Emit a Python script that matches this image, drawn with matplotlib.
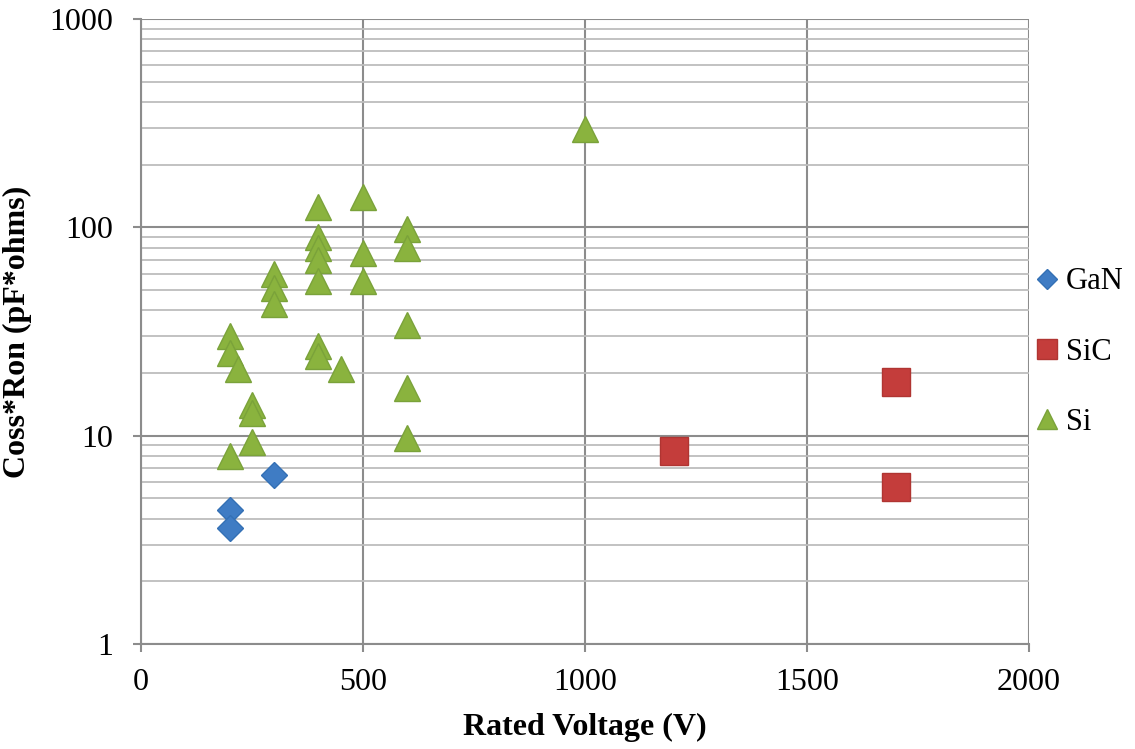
import matplotlib
matplotlib.use("Agg")
import matplotlib.pyplot as plt
from matplotlib.ticker import LogLocator, FixedLocator, NullFormatter

plt.rcParams['font.family'] = ['Liberation Serif', 'DejaVu Serif']

gan_v = [200, 200, 300]
gan_c = [4.4, 3.6, 6.5]

sic_v = [1200, 1700, 1700]
sic_c = [8.4, 18, 5.7]

si_v = [1000, 400, 500, 600, 600, 400, 400, 400, 400, 500, 500,
        300, 300, 300, 200, 200, 220, 400, 400, 450, 600, 600, 600,
        250, 250, 250, 200]
si_c = [295, 125, 140, 98, 80, 90, 80, 70, 55, 75, 55,
        60, 51, 43, 30, 25, 21, 27, 24, 21, 34, 17, 9.7,
        14, 12.8, 9.3, 8]

fig = plt.figure(figsize=(11.35, 7.49), dpi=100)
ax = fig.add_axes([0.124, 0.1402, 0.9066 - 0.124, 0.9746 - 0.1402])

ax.set_yscale('log')
ax.set_xlim(0, 2000)
ax.set_ylim(1, 1000)

ax.xaxis.set_major_locator(FixedLocator([0, 500, 1000, 1500, 2000]))
ax.yaxis.set_major_locator(FixedLocator([1, 10, 100, 1000]))
ax.yaxis.set_major_formatter(matplotlib.ticker.FuncFormatter(lambda v, p: f"{int(round(v))}"))
ax.yaxis.set_minor_locator(LogLocator(base=10, subs=range(2, 10)))
ax.yaxis.set_minor_formatter(NullFormatter())

ax.grid(True, which='major', axis='both', color='#8c8c8c', linewidth=1.5)
ax.grid(True, which='minor', axis='y', color='#bdbdbd', linewidth=1.3)
ax.set_axisbelow(True)

for s in ['top', 'right']:
    ax.spines[s].set_visible(False)
for s in ['left', 'bottom']:
    ax.spines[s].set_color('#8c8c8c')
    ax.spines[s].set_linewidth(1.5)

ax.tick_params(axis='both', which='major', direction='out', length=6, width=1.5,
               color='#8c8c8c', labelsize=23, pad=8)
ax.tick_params(axis='y', which='minor', length=0)
ax.tick_params(axis='y', which='major', pad=14)
ax.tick_params(axis='x', which='major', pad=11)

ax.plot(gan_v, gan_c, linestyle='none', marker='D', markersize=13.5,
        color='#3f7cc4', markeredgecolor='#3470b5', label='GaN', zorder=3)
ax.plot(sic_v, sic_c, linestyle='none', marker='s', markersize=19.5,
        color='#c43d3b', markeredgecolor='#b03532', label='SiC', zorder=3)
ax.plot(si_v, si_c, linestyle='none', marker='^', markersize=19,
        color='#8ab33e', markeredgecolor='#7aa23a', label='Si', zorder=3)

ax.set_xlabel('Rated Voltage (V)', fontsize=23, fontweight='bold', labelpad=12)
ax.set_ylabel('Coss*Ron (pF*ohms)', fontsize=23, fontweight='bold', labelpad=12)

leg = ax.legend(loc='center left', bbox_to_anchor=(1.0, 0.467), frameon=False,
                fontsize=22, handletextpad=0.2, handlelength=0.8,
                labelspacing=1.35, markerscale=0.75, borderaxespad=0.0,
                borderpad=0.2)

fig.savefig('out.png', dpi=100)
